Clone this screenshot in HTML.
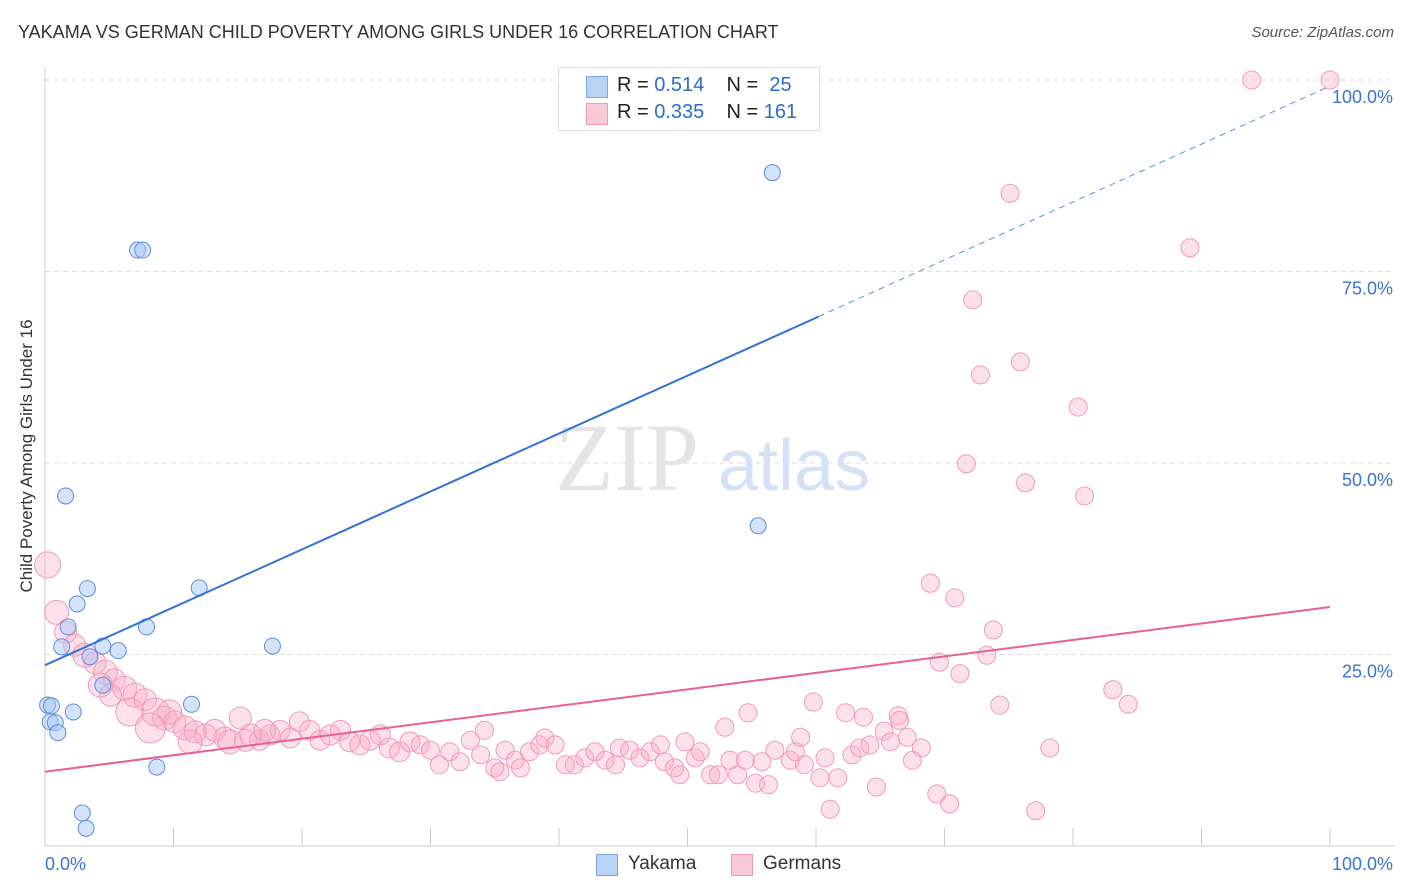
<!DOCTYPE html>
<html><head><meta charset="utf-8"><style>
body{margin:0;background:#fff;font-family:"Liberation Sans",sans-serif;}
#wrap{position:relative;width:1406px;height:892px;overflow:hidden;}
.t{position:absolute;white-space:nowrap;}
</style></head><body>
<div id="wrap">
<div class="t" style="left:18px;top:22px;font-size:18px;color:#333;">YAKAMA VS GERMAN CHILD POVERTY AMONG GIRLS UNDER 16 CORRELATION CHART</div>
<div class="t" style="right:12px;top:24px;font-size:15px;color:#555;font-style:italic;">Source: ZipAtlas.com</div>
<div class="t" style="left:-133px;top:446px;font-size:17px;color:#333;transform:rotate(-90deg);width:320px;text-align:center;">Child Poverty Among Girls Under 16</div>
<svg id="svg" width="1406" height="892" style="position:absolute;left:0;top:0"></svg>
<div style="position:absolute;left:558px;top:67px;width:260px;height:62px;border:1px solid #ddd;background:#fff;font-size:20px;">
<div style="position:absolute;left:27px;top:8px;width:20px;height:20px;background:#b9d3f5;border:1px solid #7aa6e6"></div>
<div class="t" style="left:58px;top:6px;color:#222">R = <span style="color:#2e6bd0">0.514</span>&nbsp;&nbsp;&nbsp; N = &nbsp;<span style="color:#2e6bd0">25</span></div>
<div style="position:absolute;left:27px;top:35px;width:20px;height:20px;background:#fbcad8;border:1px solid #f09ab5"></div>
<div class="t" style="left:58px;top:33px;color:#222">R = <span style="color:#2e6bd0">0.335</span>&nbsp;&nbsp;&nbsp; N = <span style="color:#2e6bd0">161</span></div>
</div>
<div style="position:absolute;left:596px;top:853px;font-size:19px;color:#333;">
<div style="position:absolute;left:0;top:1px;width:20px;height:20px;background:#b9d3f5;border:1px solid #7aa6e6"></div>
<div class="t" style="left:32px;top:0">Yakama</div>
<div style="position:absolute;left:135px;top:1px;width:20px;height:20px;background:#fbcad8;border:1px solid #f09ab5"></div>
<div class="t" style="left:167px;top:0">Germans</div>
</div>
</div>
<script>
const blueX=[0.2,0.5,0.4,0.8,1.0,2.2,1.6,1.8,2.5,3.3,1.3,3.5,4.5,5.7,4.5,7.9,7.2,7.6,12.0,11.4,8.7,2.9,3.2,17.7,56.6,55.5];
const blueY=[18.4,18.3,16.2,16.1,14.8,17.5,45.7,28.6,31.6,33.6,26.0,24.7,26.1,25.5,21.0,28.6,77.8,77.8,33.7,18.5,10.3,4.3,2.3,26.1,87.9,41.8];
const pinkX=[0.2,0.9,1.6,2.3,3.1,3.9,4.7,5.4,6.2,7.0,7.8,8.6,9.3,10.1,10.9,11.7,12.5,13.2,14.0,15.2,16.0,16.7,17.5,18.3,19.1,19.8,20.6,21.4,22.2,23.0,23.7,24.5,25.3,26.1,26.8,27.6,28.4,29.2,30.0,30.7,31.5,32.3,33.1,33.9,34.2,35.0,35.4,35.8,36.6,37.0,37.7,38.5,38.9,39.7,40.5,41.2,42.0,42.8,43.6,44.4,44.7,45.5,46.3,47.1,47.9,48.2,49.0,49.4,49.8,50.6,51.0,51.8,52.4,52.9,53.3,53.9,54.5,54.7,55.3,55.8,56.3,56.8,58.0,58.4,58.8,59.1,59.8,60.3,60.7,61.1,61.7,62.3,62.8,63.4,63.7,64.2,64.7,65.3,65.8,66.4,66.5,67.1,67.5,68.2,68.9,69.4,69.6,70.4,70.8,71.2,71.7,72.2,72.8,73.3,73.8,74.3,75.1,75.9,76.3,77.1,78.2,80.4,80.9,83.1,84.3,89.1,93.9,100,4.3,5.1,6.6,8.2,9.7,11.3,14.4,15.6,17.1];
const pinkY=[36.7,30.5,27.9,26.2,24.9,23.9,22.7,21.7,20.6,19.7,19.1,17.5,16.7,16.2,15.4,14.9,14.5,15.1,14.1,16.7,14.5,13.8,14.5,15.1,14.1,16.2,15.1,13.8,14.5,15.1,13.6,13.2,13.8,14.5,12.8,12.3,13.6,13.2,12.5,10.6,12.3,11.0,13.8,11.9,15.1,10.2,9.7,12.5,11.2,10.2,12.3,13.2,14.1,13.2,10.6,10.6,11.5,12.3,11.2,10.6,12.8,12.5,11.5,12.3,13.2,11.0,10.2,9.3,13.6,11.5,12.3,9.3,9.3,15.5,11.2,9.3,11.2,17.4,8.2,11.0,8.0,12.5,11.2,12.3,14.2,10.6,18.8,8.9,11.5,4.8,8.9,17.4,11.9,12.8,16.8,13.2,7.7,15.0,13.6,17.0,16.4,14.2,11.2,12.8,34.3,6.8,24.0,5.5,32.4,22.5,49.9,71.3,61.5,24.9,28.2,18.4,85.2,63.2,47.4,4.6,12.8,57.3,45.7,20.4,18.5,78.1,100,100,21.0,19.7,17.5,15.4,17.5,13.6,13.6,13.8,15.1];
const pinkSize=[13,12,11,11,12,11,12,11,12,12,11,14,12,11,12,11,11,11,11,11,11,10,10,10,10,10,10,10,10,10,10,10,10,10,10,10,10,9,9,9,9,9,9,9,9,9,9,9,9,9,9,9,9,9,9,9,9,9,9,9,9,9,9,9,9,9,9,9,9,9,9,9,9,9,9,9,9,9,9,9,9,9,9,9,9,9,9,9,9,9,9,9,9,9,9,9,9,9,9,9,9,9,9,9,9,9,9,9,9,9,9,9,9,9,9,9,9,9,9,9,9,9,9,9,9,9,9,9,12,11,14,15,12,12,12,11,11];
const blueLine=[23.6,99.2];
const pinkLine=[9.7,31.2];
const yTicks=[25,50,75,100];
const xTicks=[0,10,20,30,40,50,60,70,80,90,100];

const sx=v=>45+v*12.85, sy=v=>846-v*7.66;
const svg=document.getElementById('svg');
const NS='http://www.w3.org/2000/svg';
function mk(tag,attrs,name){const e=document.createElementNS(NS,tag);for(const k in attrs)e.setAttribute(k,attrs[k]);


svg.appendChild(e);return e;}
yTicks.forEach(t=>{mk('line',{x1:45,x2:1395,y1:sy(t),y2:sy(t),stroke:'#ddd','stroke-dasharray':'5,4'},'gridline');
const tx=mk('text',{x:1393,y:sy(t)+23,'text-anchor':'end','font-size':18,fill:'#3b73d4','font-family':'Liberation Sans'},'y-tick-label');tx.textContent=t.toFixed(1)+'%';});
mk('line',{x1:45,x2:45,y1:68,y2:846,stroke:'#ccc'},'y-axis');
mk('line',{x1:45,x2:1395,y1:846,y2:846,stroke:'#ccc'},'x-axis');
xTicks.forEach(t=>mk('line',{x1:sx(t),x2:sx(t),y1:828,y2:846,stroke:'#ccc'},'x-tick'));
let l=mk('text',{x:45,y:870,'font-size':18,fill:'#3b73d4','font-family':'Liberation Sans'},'x-tick-label');l.textContent='0.0%';
l=mk('text',{x:1393,y:870,'text-anchor':'end','font-size':18,fill:'#3b73d4','font-family':'Liberation Sans'},'x-tick-label');l.textContent='100.0%';
l=mk('text',{x:555,y:490,'font-size':96,fill:'#e4e4e4','font-family':'Liberation Serif'},'watermark-zip');l.textContent='ZIP';
l=mk('text',{x:718,y:490,'font-size':72,fill:'#d5e2f5','font-family':'Liberation Sans'},'watermark-atlas');l.textContent='atlas';
pinkX.forEach((x,i)=>mk('circle',{cx:sx(x),cy:sy(pinkY[i]),r:pinkSize[i],fill:'rgba(248,170,195,0.35)',stroke:'#f19bb7','stroke-width':1},'german-point'));
blueX.forEach((x,i)=>mk('circle',{cx:sx(x),cy:sy(blueY[i]),r:8,fill:'rgba(170,200,245,0.5)',stroke:'#5b8fdc','stroke-width':1},'yakama-point'));
const bAt=v=>blueLine[0]+(blueLine[1]-blueLine[0])*v/100;
mk('line',{x1:sx(0),y1:sy(bAt(0)),x2:sx(60.2),y2:sy(bAt(60.2)),stroke:'#2e73d8','stroke-width':2},'yakama-trendline');
mk('line',{x1:sx(60.2),y1:sy(bAt(60.2)),x2:sx(100),y2:sy(bAt(100)),stroke:'#5b8fdc','stroke-width':1,'stroke-dasharray':'6,5'},'yakama-trendline-extension');
mk('line',{x1:sx(0),y1:sy(pinkLine[0]),x2:sx(100),y2:sy(pinkLine[1]),stroke:'#e8628f','stroke-width':2},'german-trendline');
</script>
</body></html>
